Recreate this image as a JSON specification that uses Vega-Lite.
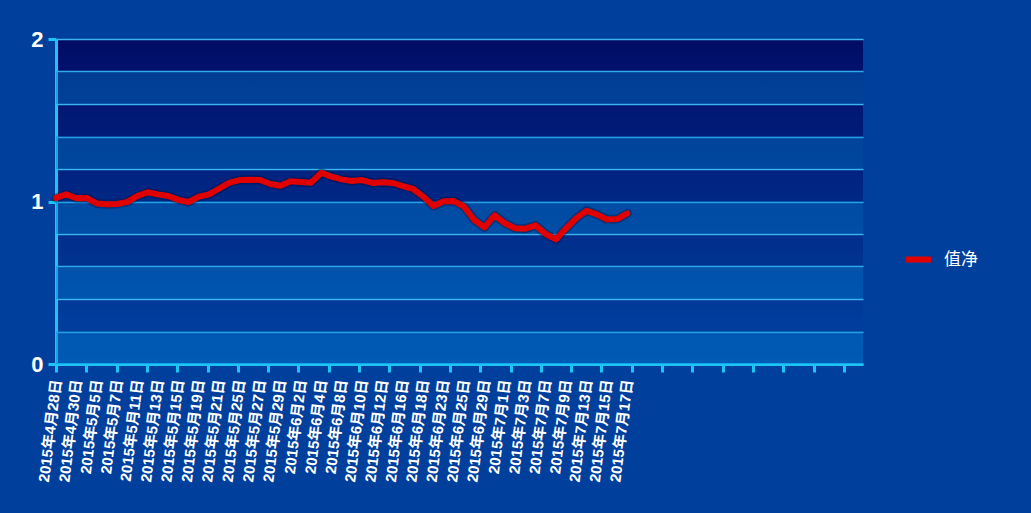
{
  "$schema": "https://vega.github.io/schema/vega-lite/v6.json",
  "width": 807,
  "height": 325,
  "autosize": {"type": "none"},
  "padding": {"left": 56, "top": 39, "right": 168, "bottom": 149},
  "background": "#003f9c",
  "config": {
    "view": {
      "stroke": null,
      "fill": {"gradient": "linear", "x1": 0, "y1": 0, "x2": 0, "y2": 1,
        "stops": [{"offset": 0, "color": "#000c66"}, {"offset": 1, "color": "#0044a4"}]}
    }
  },
  "datasets": {
    "bands": [
      {"lo": 0.0, "hi": 0.2},
      {"lo": 0.4, "hi": 0.6},
      {"lo": 0.8, "hi": 1.0},
      {"lo": 1.2, "hi": 1.4},
      {"lo": 1.6, "hi": 1.8}
    ],
    "nav": [
      {"i": 0, "d": "2015年4月28日", "v": 1.022},
      {"i": 1, "d": "2015年4月29日", "v": 1.044},
      {"i": 2, "d": "2015年4月30日", "v": 1.02},
      {"i": 3, "d": "2015年5月4日", "v": 1.022},
      {"i": 4, "d": "2015年5月5日", "v": 0.988},
      {"i": 5, "d": "2015年5月6日", "v": 0.983},
      {"i": 6, "d": "2015年5月7日", "v": 0.985},
      {"i": 7, "d": "2015年5月8日", "v": 0.998},
      {"i": 8, "d": "2015年5月11日", "v": 1.035},
      {"i": 9, "d": "2015年5月12日", "v": 1.057},
      {"i": 10, "d": "2015年5月13日", "v": 1.044},
      {"i": 11, "d": "2015年5月14日", "v": 1.034},
      {"i": 12, "d": "2015年5月15日", "v": 1.01},
      {"i": 13, "d": "2015年5月18日", "v": 0.997},
      {"i": 14, "d": "2015年5月19日", "v": 1.03},
      {"i": 15, "d": "2015年5月20日", "v": 1.044},
      {"i": 16, "d": "2015年5月21日", "v": 1.08},
      {"i": 17, "d": "2015年5月22日", "v": 1.116},
      {"i": 18, "d": "2015年5月25日", "v": 1.132},
      {"i": 19, "d": "2015年5月26日", "v": 1.134},
      {"i": 20, "d": "2015年5月27日", "v": 1.132},
      {"i": 21, "d": "2015年5月28日", "v": 1.108},
      {"i": 22, "d": "2015年5月29日", "v": 1.097},
      {"i": 23, "d": "2015年6月1日", "v": 1.124},
      {"i": 24, "d": "2015年6月2日", "v": 1.12},
      {"i": 25, "d": "2015年6月3日", "v": 1.116},
      {"i": 26, "d": "2015年6月4日", "v": 1.177},
      {"i": 27, "d": "2015年6月5日", "v": 1.153},
      {"i": 28, "d": "2015年6月8日", "v": 1.136},
      {"i": 29, "d": "2015年6月9日", "v": 1.126},
      {"i": 30, "d": "2015年6月10日", "v": 1.132},
      {"i": 31, "d": "2015年6月11日", "v": 1.114},
      {"i": 32, "d": "2015年6月12日", "v": 1.118},
      {"i": 33, "d": "2015年6月15日", "v": 1.114},
      {"i": 34, "d": "2015年6月16日", "v": 1.095},
      {"i": 35, "d": "2015年6月17日", "v": 1.077},
      {"i": 36, "d": "2015年6月18日", "v": 1.03},
      {"i": 37, "d": "2015年6月19日", "v": 0.972},
      {"i": 38, "d": "2015年6月23日", "v": 1.001},
      {"i": 39, "d": "2015年6月24日", "v": 1.003},
      {"i": 40, "d": "2015年6月25日", "v": 0.968},
      {"i": 41, "d": "2015年6月26日", "v": 0.886},
      {"i": 42, "d": "2015年6月29日", "v": 0.841},
      {"i": 43, "d": "2015年6月30日", "v": 0.915},
      {"i": 44, "d": "2015年7月1日", "v": 0.866},
      {"i": 45, "d": "2015年7月2日", "v": 0.835},
      {"i": 46, "d": "2015年7月3日", "v": 0.833},
      {"i": 47, "d": "2015年7月6日", "v": 0.853},
      {"i": 48, "d": "2015年7月7日", "v": 0.8},
      {"i": 49, "d": "2015年7月8日", "v": 0.767},
      {"i": 50, "d": "2015年7月9日", "v": 0.835},
      {"i": 51, "d": "2015年7月10日", "v": 0.898},
      {"i": 52, "d": "2015年7月13日", "v": 0.943},
      {"i": 53, "d": "2015年7月14日", "v": 0.921},
      {"i": 54, "d": "2015年7月15日", "v": 0.89},
      {"i": 55, "d": "2015年7月16日", "v": 0.892},
      {"i": 56, "d": "2015年7月17日", "v": 0.927}
    ]
  },
  "layer": [
    {
      "data": {"name": "bands"},
      "mark": {"type": "rect", "fill": "#0080d0", "opacity": 0.4},
      "encoding": {
        "y": {"field": "lo", "type": "quantitative",
          "scale": {"domain": [0, 2], "nice": false, "zero": true},
          "axis": {"orient": "left", "values": [0, 0.2, 0.4, 0.6, 0.8, 1, 1.2, 1.4, 1.6, 1.8, 2],
            "grid": true, "gridColor": "#3cb4f0", "gridWidth": 1.5, "gridOpacity": 1,
            "labels": false, "ticks": false, "domain": false, "title": null}},
        "y2": {"field": "hi"}
      }
    },
    {
      "data": {"name": "nav"},
      "mark": {"type": "line", "color": "#000a30", "opacity": 0.35, "strokeWidth": 9, "strokeJoin": "round", "strokeCap": "round"},
      "encoding": {
        "x": {"field": "i", "type": "quantitative",
          "scale": {"domain": [0, 79.1], "nice": false, "zero": false},
          "axis": {"orient": "bottom", "values": [0, 2.97, 5.94, 8.91, 11.88, 14.85, 17.82, 20.79, 23.76, 26.73, 29.7, 32.67, 35.64, 38.61, 41.58, 44.55, 47.52, 50.49, 53.46, 56.43, 59.4, 62.37, 65.34, 68.31, 71.28, 74.25, 77.22],
            "grid": false, "labels": false, "ticks": true, "tickSize": 8, "tickWidth": 3, "tickColor": "#1ec4f4",
            "domain": true, "domainColor": "#1ec4f4", "domainWidth": 3, "title": null}},
        "y": {"field": "v", "type": "quantitative",
          "axis": {"orient": "left", "values": [0, 1, 2], "labelExpr": "format(datum.value, 'd')",
            "grid": false, "ticks": true, "tickSize": 8, "tickWidth": 3, "tickColor": "#1ec4f4",
            "domain": true, "domainColor": "#1ec4f4", "domainWidth": 3,
            "labelFont": "Liberation Sans", "labelFontSize": 22, "labelFontWeight": "bold",
            "labelColor": "#ffffff", "labelPadding": 5, "labelFlush": false, "labelOverlap": false, "labelBound": false, "title": null}}
      }
    },
    {
      "data": {"name": "nav"},
      "mark": {"type": "line", "strokeWidth": 6, "strokeJoin": "round", "strokeCap": "round"},
      "encoding": {
        "x": {"field": "i", "type": "quantitative",
          "axis": {"orient": "bottom", "values": [0, 2, 4, 6, 8, 10, 12, 14, 16, 18, 20, 22, 24, 26, 28, 30, 32, 34, 36, 38, 40, 42, 44, 46, 48, 50, 52, 54, 56],
            "labelExpr": "['2015年4月28日','2015年4月29日','2015年4月30日','2015年5月4日','2015年5月5日','2015年5月6日','2015年5月7日','2015年5月8日','2015年5月11日','2015年5月12日','2015年5月13日','2015年5月14日','2015年5月15日','2015年5月18日','2015年5月19日','2015年5月20日','2015年5月21日','2015年5月22日','2015年5月25日','2015年5月26日','2015年5月27日','2015年5月28日','2015年5月29日','2015年6月1日','2015年6月2日','2015年6月3日','2015年6月4日','2015年6月5日','2015年6月8日','2015年6月9日','2015年6月10日','2015年6月11日','2015年6月12日','2015年6月15日','2015年6月16日','2015年6月17日','2015年6月18日','2015年6月19日','2015年6月23日','2015年6月24日','2015年6月25日','2015年6月26日','2015年6月29日','2015年6月30日','2015年7月1日','2015年7月2日','2015年7月3日','2015年7月6日','2015年7月7日','2015年7月8日','2015年7月9日','2015年7月10日','2015年7月13日','2015年7月14日','2015年7月15日','2015年7月16日','2015年7月17日'][datum.value]",
            "labelAngle": -83, "labelAlign": "right", "labelBaseline": "middle",
            "labelFont": "Liberation Sans, Noto Sans CJK SC", "labelFontSize": 15, "labelFontWeight": "bold",
            "labelColor": "#ffffff", "labelPadding": 15, "labelOverlap": false, "labelFlush": false, "labelBound": false,
            "grid": false, "ticks": false, "domain": false, "title": null}},
        "y": {"field": "v", "type": "quantitative", "axis": null},
        "color": {"datum": "值净", "type": "nominal",
          "scale": {"range": ["#e00000"]},
          "legend": {"title": null, "orient": "none", "legendX": 847, "legendY": 205,
            "symbolType": "stroke", "symbolSize": 625, "symbolStrokeWidth": 6, "symbolStrokeColor": "#e00000",
            "labelFont": "Noto Sans CJK SC", "labelFontSize": 17, "labelColor": "#ffffff", "labelOffset": 10, "padding": 0}}
      }
    }
  ],
  "resolve": {
    "scale": {"x": "shared", "y": "shared"},
    "axis": {"x": "independent", "y": "independent"}
  }
}
